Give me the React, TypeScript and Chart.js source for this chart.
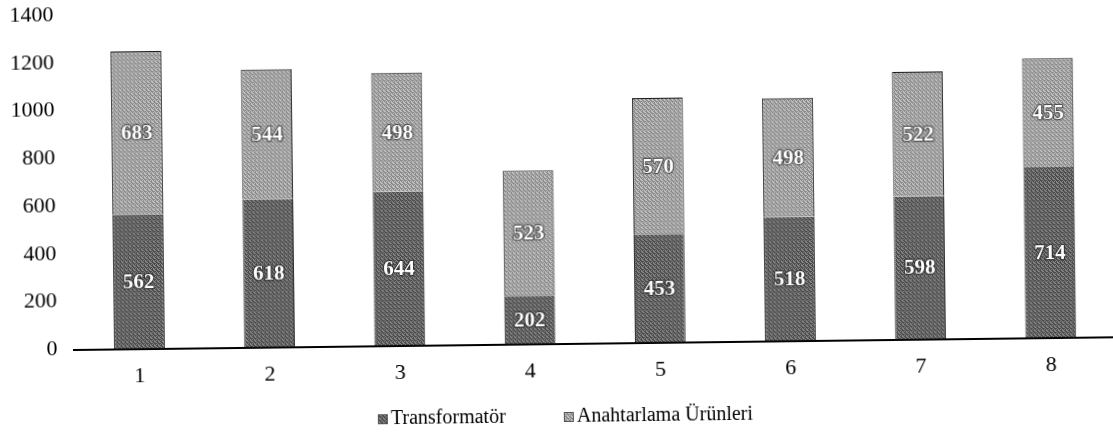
import { useEffect, useRef } from "react";
import { Chart, registerables } from "chart.js";

Chart.register(...registerables);

const categories = ["1", "2", "3", "4", "5", "6", "7", "8"];
const transformator = [562, 618, 644, 202, 453, 518, 598, 714];
const anahtarlama = [683, 544, 498, 523, 570, 498, 522, 455];
const yTicks = [0, 200, 400, 600, 800, 1000, 1200, 1400];
const seriesNames = ["Transformatör", "Anahtarlama Ürünleri"];

const SERIF = "'Liberation Serif', 'Times New Roman', serif";

// 4x4 halftone-like tile: 1 = dark dot, 0 = light dot
const TILE = [
  [1, 0, 1, 1],
  [0, 1, 0, 1],
  [1, 1, 0, 0],
  [0, 1, 1, 0],
];

function makePattern(dark: string, light: string): CanvasPattern | string {
  const c = document.createElement("canvas");
  c.width = 4;
  c.height = 4;
  const g = c.getContext("2d");
  if (!g) return dark;
  for (let y = 0; y < 4; y++) {
    for (let x = 0; x < 4; x++) {
      g.fillStyle = TILE[y][x] ? dark : light;
      g.fillRect(x, y, 1, 1);
    }
  }
  const p = g.createPattern(c, "repeat");
  return p || dark;
}

export default function App() {
  const ref = useRef<HTMLCanvasElement | null>(null);

  useEffect(() => {
    const canvas = ref.current;
    if (!canvas) return;

    const darkFill = makePattern("#4a4a4a", "#888888");
    const lightFill = makePattern("#8a8a8a", "#c4c4c4");
    const fills = [darkFill, lightFill];

    const valueLabels = {
      id: "valueLabels",
      afterDatasetsDraw(chart: any) {
        const ctx = chart.ctx;
        ctx.save();
        ctx.font = `bold 21px ${SERIF}`;
        ctx.textAlign = "center";
        ctx.textBaseline = "middle";
        chart.data.datasets.forEach((ds: any, i: number) => {
          const meta = chart.getDatasetMeta(i);
          meta.data.forEach((el: any, j: number) => {
            const y = (el.y + el.base) / 2;
            const txt = String(ds.data[j]);
            ctx.shadowColor = "rgba(0,0,0,0.8)";
            ctx.shadowBlur = 2;
            ctx.lineWidth = 1.5;
            ctx.strokeStyle = "rgba(30,30,30,0.6)";
            ctx.strokeText(txt, el.x, y + 1);
            ctx.shadowBlur = 0;
            ctx.fillStyle = "#ffffff";
            ctx.fillText(txt, el.x, y + 1);
          });
        });
        ctx.restore();
      },
    };

    const customLegend = {
      id: "customLegend",
      afterDraw(chart: any) {
        const ctx = chart.ctx;
        ctx.save();
        ctx.font = `20px ${SERIF}`;
        ctx.textBaseline = "middle";
        ctx.textAlign = "left";
        const y = 423;
        const starts = [377, 563];
        seriesNames.forEach((name, i) => {
          const x = starts[i];
          ctx.fillStyle = fills[i] as any;
          ctx.fillRect(x, y - 5, 10, 10);
          ctx.strokeStyle = "#555";
          ctx.lineWidth = 1;
          ctx.strokeRect(x + 0.5, y - 4.5, 9, 9);
          ctx.fillStyle = "#000";
          ctx.fillText(name, x + 13, y);
        });
        ctx.restore();
      },
    };

    const chart = new Chart(canvas, {
      type: "bar",
      data: {
        labels: categories,
        datasets: [
          {
            label: seriesNames[0],
            data: transformator,
            backgroundColor: darkFill as any,
            borderColor: "#1a1a1a",
            borderWidth: { left: 1, right: 1, top: 0, bottom: 0 } as any,
            borderSkipped: false,
            barPercentage: 0.39,
            categoryPercentage: 1,
          },
          {
            label: seriesNames[1],
            data: anahtarlama,
            backgroundColor: lightFill as any,
            borderColor: "#1a1a1a",
            borderWidth: { left: 1, right: 1, top: 1, bottom: 0 } as any,
            borderSkipped: false,
            barPercentage: 0.39,
            categoryPercentage: 1,
          },
        ],
      },
      options: {
        responsive: false,
        animation: false,
        devicePixelRatio: 1,
        layout: { padding: { top: 15, left: 0, right: 0, bottom: 0 } },
        plugins: {
          legend: { display: false },
          tooltip: { enabled: false },
        },
        scales: {
          x: {
            stacked: true,
            grid: { display: false, drawTicks: false },
            border: { display: true, color: "#000", width: 2 },
            ticks: {
              color: "#000",
              font: { family: SERIF, size: 22 },
              padding: 15,
            },
            afterFit(scale: any) {
              scale.height = 435 - 349.5;
              scale.paddingLeft = 0;
              scale.paddingRight = 0;
            },
          },
          y: {
            stacked: true,
            min: 0,
            max: 1400,
            grid: { display: false, drawTicks: false },
            border: { display: false },
            ticks: {
              color: "#000",
              font: { family: SERIF, size: 22 },
              padding: 17,
              callback: (v: any) => String(v),
            },
            afterBuildTicks(scale: any) {
              scale.ticks = yTicks.map((v) => ({ value: v }));
            },
            afterFit(scale: any) {
              scale.width = 74.4;
              scale.paddingTop = 0;
              scale.paddingBottom = 0;
            },
          },
        },
      },
      plugins: [valueLabels, customLegend],
    });

    return () => chart.destroy();
  }, []);

  return (
    <div
      style={{
        position: "fixed",
        left: 0,
        top: 0,
        width: 1113,
        height: 435,
        overflow: "hidden",
        background: "#fff",
      }}
    >
      <canvas
        ref={ref}
        width={1116}
        height={435}
        style={{
          width: 1116,
          height: 435,
          display: "block",
          transform: "rotate(-0.7deg)",
          transformOrigin: "74.4px 349.5px",
        }}
      />
    </div>
  );
}
